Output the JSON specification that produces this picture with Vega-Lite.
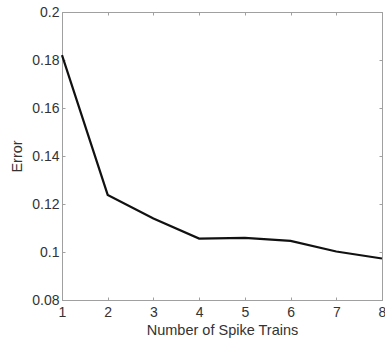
{
  "$schema": "https://vega.github.io/schema/vega-lite/v6.json",
  "width": 320,
  "height": 288,
  "autosize": {"type": "none"},
  "padding": {"left": 62, "top": 12, "right": 3, "bottom": 39},
  "background": "white",
  "config": {
    "view": {"stroke": "#a0a0a0", "strokeWidth": 1},
    "axis": {
      "domainColor": "#a0a0a0",
      "tickColor": "#a0a0a0",
      "tickSize": -3,
      "grid": false,
      "labelFont": "Liberation Sans",
      "titleFont": "Liberation Sans",
      "labelColor": "#333333",
      "titleColor": "#333333",
      "labelFontSize": 14,
      "titleFontSize": 14.5,
      "titleFontWeight": "normal"
    }
  },
  "data": {
    "values": [
      {"n": 1, "err": 0.182},
      {"n": 2, "err": 0.1238},
      {"n": 3, "err": 0.114},
      {"n": 4, "err": 0.1056},
      {"n": 5, "err": 0.1059},
      {"n": 6, "err": 0.1046},
      {"n": 7, "err": 0.1002},
      {"n": 8, "err": 0.0973}
    ]
  },
  "layer": [
    {
      "mark": {"type": "line", "color": "#111111", "strokeWidth": 2.2},
      "encoding": {
        "x": {"field": "n", "type": "quantitative", "scale": {"domain": [1, 8], "nice": false},
              "axis": {"title": "Number of Spike Trains", "values": [1,2,3,4,5,6,7,8], "labelPadding": 8, "titlePadding": 4, "labelFlush": false}},
        "y": {"field": "err", "type": "quantitative", "scale": {"domain": [0.08, 0.2], "nice": false, "zero": false},
              "axis": {"title": "Error", "values": [0.08,0.1,0.12,0.14,0.16,0.18,0.2], "format": "~g", "labelPadding": 6, "titlePadding": 7, "labelFlush": false}}
      }
    },
    {
      "mark": {"type": "line", "opacity": 0},
      "encoding": {
        "x": {"field": "n", "type": "quantitative", "scale": {"domain": [1, 8], "nice": false},
              "axis": {"orient": "top", "title": null, "labels": false, "values": [1,2,3,4,5,6,7,8]}},
        "y": {"field": "err", "type": "quantitative", "scale": {"domain": [0.08, 0.2], "nice": false, "zero": false},
              "axis": {"orient": "right", "title": null, "labels": false, "values": [0.08,0.1,0.12,0.14,0.16,0.18,0.2]}}
      }
    }
  ],
  "resolve": {"axis": {"x": "independent", "y": "independent"}}
}
